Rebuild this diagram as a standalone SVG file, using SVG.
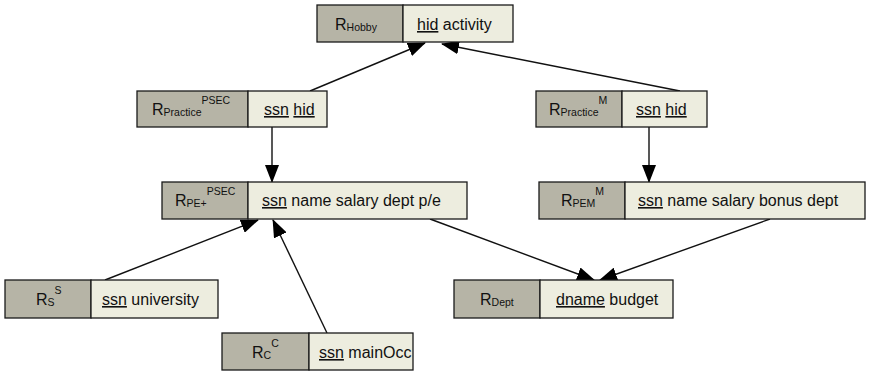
<svg xmlns="http://www.w3.org/2000/svg" width="870" height="376" viewBox="0 0 870 376">
<style>
.l{fill:#b6b4a6;stroke:#1a1a1a;stroke-width:1.3}
.r{fill:#ededdf;stroke:#1a1a1a;stroke-width:1.3}
text{font-family:"Liberation Sans",Arial,sans-serif;font-size:16px;fill:#111}
.s{font-size:10.5px}
.u{text-decoration:underline}
.e{stroke:#111;stroke-width:1.4;fill:none;marker-end:url(#a)}
</style>
<defs>
<marker id="a" viewBox="0 0 18 14" refX="17" refY="7" markerWidth="18" markerHeight="14" markerUnits="userSpaceOnUse" orient="auto">
<path d="M0,0 L18,7 L0,14 Z" fill="#000"/>
</marker>
</defs>
<rect width="870" height="376" fill="#fff"/>
<g id="connectors">
<line class="e" x1="310" y1="91" x2="425" y2="43"/>
<line class="e" x1="680" y1="91" x2="442" y2="44"/>
<line class="e" x1="272" y1="127" x2="272" y2="182"/>
<line class="e" x1="649" y1="127" x2="649" y2="182"/>
<line class="e" x1="430" y1="219" x2="594" y2="280"/>
<line class="e" x1="770" y1="219" x2="600" y2="280"/>
<line class="e" x1="105" y1="280" x2="258" y2="220"/>
<line class="e" x1="327" y1="333" x2="273" y2="220"/>
</g>
<g id="hobby">
<rect class="l" x="317" y="5" width="86" height="37"/>
<rect class="r" x="403" y="5" width="110" height="37"/>
<text x="335" y="30">R<tspan class="s" dy="1">Hobby</tspan></text>
<text x="417" y="30"><tspan class="u">hid</tspan> activity</text>
</g>
<g id="practice_psec">
<rect class="l" x="137" y="91" width="111" height="36"/>
<rect class="r" x="248" y="91" width="79" height="36"/>
<text x="152" y="115">R<tspan class="s" dy="1">Practice</tspan><tspan class="s" dy="-12">PSEC</tspan></text>
<text x="264" y="115"><tspan class="u">ssn</tspan> <tspan class="u">hid</tspan></text>
</g>
<g id="practice_m">
<rect class="l" x="536" y="91" width="86" height="36"/>
<rect class="r" x="622" y="91" width="85" height="36"/>
<text x="549" y="115">R<tspan class="s" dy="1">Practice</tspan><tspan class="s" dy="-12">M</tspan></text>
<text x="636" y="115"><tspan class="u">ssn</tspan> <tspan class="u">hid</tspan></text>
</g>
<g id="pe_psec">
<rect class="l" x="162" y="182" width="86" height="37"/>
<rect class="r" x="248" y="182" width="219" height="37"/>
<text x="175" y="206">R<tspan class="s" dy="1">PE+</tspan><tspan class="s" dy="-12">PSEC</tspan></text>
<text x="262" y="206"><tspan class="u">ssn</tspan> name salary dept p/e</text>
</g>
<g id="pem_m">
<rect class="l" x="539" y="182" width="86" height="37"/>
<rect class="r" x="625" y="182" width="240" height="37"/>
<text x="561" y="206">R<tspan class="s" dy="1">PEM</tspan><tspan class="s" dy="-12">M</tspan></text>
<text x="638" y="206"><tspan class="u">ssn</tspan> name salary bonus dept</text>
</g>
<g id="rs">
<rect class="l" x="5" y="280" width="86" height="38"/>
<rect class="r" x="91" y="280" width="127" height="38"/>
<text x="36" y="305">R<tspan class="s" dy="1">S</tspan><tspan class="s" dy="-12">S</tspan></text>
<text x="102" y="305"><tspan class="u">ssn</tspan> university</text>
</g>
<g id="dept">
<rect class="l" x="454" y="280" width="86" height="38"/>
<rect class="r" x="540" y="280" width="133" height="38"/>
<text x="480" y="305">R<tspan class="s" dy="1">Dept</tspan></text>
<text x="556" y="305"><tspan class="u">dname</tspan> budget</text>
</g>
<g id="rc">
<rect class="l" x="222" y="333" width="87" height="37"/>
<rect class="r" x="309" y="333" width="104" height="37"/>
<text x="252" y="358">R<tspan class="s" dy="1">C</tspan><tspan class="s" dy="-12">C</tspan></text>
<text x="319" y="358"><tspan class="u">ssn</tspan> mainOcc</text>
</g>
</svg>
